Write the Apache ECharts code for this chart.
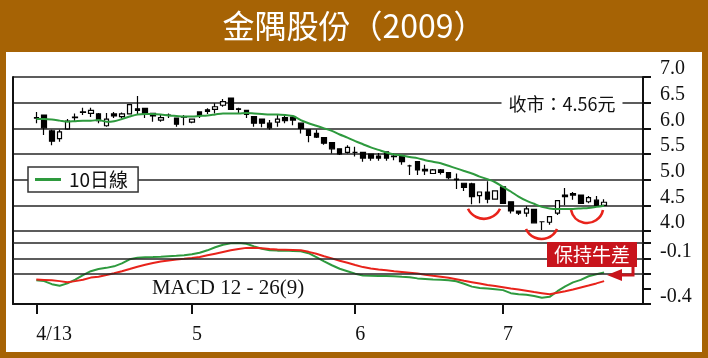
<!DOCTYPE html>
<html>
<head>
<meta charset="utf-8">
<script src="https://cdn.jsdelivr.net/npm/echarts@6/dist/echarts.min.js"></script>
<style>
html,body{margin:0;padding:0;background:#a66305;}
#chart{width:708px;height:358px;}
</style>
</head>
<body>
<div id="chart"></div>
<script>
// ---- data ----
const dayOffset = 3;          // empty slots before first candle
const totalSlots = 82;        // category slots on the time axis
const tickIdx = [3, 23, 44, 63];
const tickLabels = ['4/13', '5', '6', '7'];

const opens = [6.20,6.26,5.95,5.80,5.99,6.21,6.32,6.29,6.28,6.05,6.28,6.23,6.28,6.38,6.39,6.29,6.16,6.26,6.20,6.23,6.12,6.32,6.36,6.37,6.45,6.59,6.38,6.35,6.23,6.18,6.10,6.12,6.21,6.22,6.10,5.97,5.90,5.82,5.72,5.60,5.53,5.53,5.53,5.50,5.46,5.54,5.46,5.45,5.27,5.35,5.20,5.12,5.19,5.14,5.01,4.93,4.92,4.69,4.76,4.62,4.86,4.57,4.39,4.35,4.42,4.18,4.17,4.35,4.70,4.73,4.70,4.57,4.60,4.50];
const closes = [6.21,6.01,5.75,5.93,6.14,6.22,6.31,6.35,6.15,6.18,6.24,6.28,6.46,6.35,6.27,6.24,6.21,6.25,6.08,6.22,6.18,6.25,6.33,6.42,6.52,6.37,6.37,6.27,6.10,6.10,6.01,6.18,6.15,6.16,6.00,5.86,5.83,5.71,5.60,5.50,5.63,5.53,5.42,5.42,5.42,5.42,5.45,5.35,5.27,5.19,5.17,5.19,5.14,5.04,5.00,4.85,4.67,4.76,4.62,4.78,4.54,4.39,4.35,4.43,4.16,4.18,4.28,4.59,4.67,4.70,4.54,4.65,4.50,4.56];
const lows = [6.10,5.87,5.67,5.74,5.97,6.13,6.26,6.22,6.10,6.03,6.20,6.19,6.27,6.26,6.20,6.13,6.13,6.20,6.03,6.06,6.10,6.20,6.28,6.29,6.42,6.36,6.30,6.20,6.03,6.02,5.97,6.03,6.10,6.06,5.90,5.73,5.81,5.68,5.51,5.48,5.51,5.45,5.35,5.37,5.37,5.37,5.38,5.29,5.09,5.09,5.09,5.11,5.10,5.01,4.82,4.78,4.52,4.54,4.54,4.61,4.53,4.34,4.31,4.28,4.15,4.02,4.12,4.31,4.50,4.61,4.53,4.54,4.49,4.49];
const highs = [6.32,6.27,5.97,5.97,6.18,6.29,6.40,6.40,6.30,6.30,6.32,6.31,6.46,6.63,6.40,6.30,6.26,6.29,6.21,6.26,6.19,6.33,6.39,6.49,6.57,6.60,6.40,6.36,6.24,6.19,6.16,6.26,6.26,6.26,6.11,5.98,5.97,5.83,5.73,5.61,5.67,5.64,5.54,5.51,5.52,5.55,5.51,5.46,5.29,5.36,5.29,5.21,5.21,5.15,5.12,4.94,4.94,4.77,4.97,4.79,4.87,4.58,4.40,4.48,4.43,4.19,4.29,4.60,4.84,4.76,4.71,4.68,4.68,4.62];
const ma10 = [6.18,6.18,6.17,6.15,6.13,6.14,6.15,6.15,6.16,6.13,6.14,6.18,6.23,6.27,6.28,6.28,6.27,6.25,6.24,6.23,6.23,6.24,6.25,6.27,6.29,6.29,6.29,6.30,6.29,6.28,6.27,6.27,6.26,6.24,6.16,6.10,6.05,6.00,5.95,5.88,5.82,5.75,5.69,5.63,5.58,5.53,5.49,5.47,5.44,5.42,5.38,5.35,5.32,5.27,5.22,5.17,5.12,5.06,5.01,4.95,4.86,4.77,4.67,4.59,4.53,4.47,4.44,4.43,4.43,4.43,4.44,4.45,4.47,4.49];
const macdFast = [-0.245,-0.25,-0.27,-0.28,-0.265,-0.24,-0.21,-0.185,-0.17,-0.163,-0.153,-0.134,-0.107,-0.097,-0.093,-0.092,-0.09,-0.087,-0.084,-0.08,-0.074,-0.064,-0.048,-0.028,-0.011,-0.002,0.0,-0.005,-0.022,-0.038,-0.048,-0.05,-0.05,-0.052,-0.054,-0.067,-0.093,-0.12,-0.146,-0.169,-0.185,-0.201,-0.213,-0.214,-0.216,-0.217,-0.218,-0.222,-0.225,-0.232,-0.236,-0.24,-0.241,-0.244,-0.251,-0.267,-0.286,-0.295,-0.299,-0.304,-0.309,-0.329,-0.336,-0.339,-0.348,-0.359,-0.353,-0.316,-0.284,-0.258,-0.242,-0.218,-0.205,-0.194];
const macdSlow = [-0.24,-0.242,-0.244,-0.25,-0.257,-0.25,-0.241,-0.227,-0.221,-0.21,-0.198,-0.185,-0.171,-0.156,-0.143,-0.131,-0.121,-0.114,-0.108,-0.104,-0.099,-0.092,-0.081,-0.07,-0.059,-0.048,-0.039,-0.032,-0.031,-0.034,-0.039,-0.042,-0.044,-0.046,-0.048,-0.058,-0.071,-0.087,-0.101,-0.116,-0.129,-0.144,-0.158,-0.167,-0.173,-0.178,-0.185,-0.19,-0.195,-0.2,-0.208,-0.215,-0.221,-0.228,-0.238,-0.248,-0.257,-0.266,-0.275,-0.282,-0.29,-0.298,-0.305,-0.313,-0.322,-0.329,-0.336,-0.326,-0.316,-0.305,-0.292,-0.279,-0.265,-0.25];
const priceTicks = {min: 4.0, max: 7.0, step: 0.5};
const macdTicks = {min: -0.4, max: 0.0, step: 0.1};
const macdGridLevels = [0.0, -0.1, -0.2];
const macdShownLabels = [-0.1, -0.4];
const closeText = '收市：4.56元';
const titleText = '金隅股份（2009）';

// ---- build ----
const cats = Array.from({length: totalSlots}, (_, i) => 'd' + i);
const labelFor = {};
tickIdx.forEach((k, j) => { labelFor[k] = tickLabels[j]; });
const candleRows = opens.map((o, i) => [i + dayOffset, o, closes[i], lows[i], highs[i]]);
const maRows = ma10.map((v, i) => [i + dayOffset, v]);
const fastRows = macdFast.map((v, i) => [i + dayOffset, v]);
const slowRows = macdSlow.map((v, i) => [i + dayOffset, v]);

const SERIF = 'Liberation Serif';
const CJK = 'Noto Sans CJK TC';
const RED = '#e8231b';
const GREEN = '#2e9a3e';
const chart = echarts.init(document.getElementById('chart'), null, {renderer: 'canvas'});

const G = {left: 13, right: 65};
chart.setOption({
  animation: false,
  backgroundColor: '#a66305',
  title: {
    text: titleText, left: 'center', top: 5,
    textStyle: {color: '#fff', fontSize: 32, fontWeight: 'normal', fontFamily: CJK}
  },
  legend: {
    data: [{name: '10日線', icon: 'rect'}], left: 28, top: 167,
    padding: [3, 10, 3, 7], borderColor: '#333', borderWidth: 1.5, backgroundColor: '#fff',
    itemWidth: 26, itemHeight: 3,
    textStyle: {fontSize: 19, fontFamily: CJK, color: '#111', padding: [0, 0, 0, 3]}
  },
  grid: [
    {left: G.left, right: G.right, top: 77, height: 154},
    {left: G.left, right: G.right, top: 243, height: 61},
    {left: G.left, right: G.right, top: 77, height: 227}
  ],
  xAxis: [
    {type: 'category', gridIndex: 0, data: cats, boundaryGap: false, show: false},
    {type: 'category', gridIndex: 1, data: cats, boundaryGap: false,
      axisLine: {onZero: false, lineStyle: {color: '#111', width: 2}},
      axisTick: {interval: (i) => labelFor[i] !== undefined, length: 10, lineStyle: {color: '#111', width: 2}},
      axisLabel: {interval: (i) => labelFor[i] !== undefined, formatter: (v) => labelFor[+v.slice(1)] || '',
        align: 'left', margin: 21, fontFamily: SERIF, fontSize: 20, color: '#111'},
      splitLine: {show: false}},
    {type: 'value', gridIndex: 2, min: 0, max: 1, show: false}
  ],
  yAxis: [
    {type: 'value', gridIndex: 0, position: 'right', min: priceTicks.min, max: priceTicks.max, interval: priceTicks.step,
      axisLine: {show: false},
      axisTick: {show: true, length: 8, lineStyle: {color: '#111', width: 2}},
      axisLabel: {formatter: (v) => v.toFixed(1), margin: 17, fontFamily: SERIF, fontSize: 20, color: '#111',
        verticalAlign: 'bottom', lineHeight: 20, padding: [0, 0, -2, 0]},
      splitLine: {show: true, lineStyle: {color: '#262626', width: 1.6}}},
    {type: 'value', gridIndex: 1, position: 'right', min: macdTicks.min, max: macdTicks.max, interval: macdTicks.step,
      axisLine: {show: false},
      axisTick: {show: true, length: 8, lineStyle: {color: '#111', width: 2}},
      axisLabel: {formatter: (v) => macdShownLabels.some(s => Math.abs(s - v) < 1e-6) ? v.toFixed(1) : '',
        margin: 17, fontFamily: SERIF, fontSize: 20, color: '#111', verticalAlign: 'bottom', lineHeight: 20, padding: [0, 0, -3, 0]},
      splitLine: {show: false}},
    {type: 'value', gridIndex: 2, position: 'left', min: 0, max: 1,
      axisLine: {show: true, onZero: false, lineStyle: {color: '#111', width: 2}},
      axisTick: {show: false}, axisLabel: {show: false}, splitLine: {show: false}},
    {type: 'value', gridIndex: 2, position: 'right', min: 0, max: 1,
      axisLine: {show: true, onZero: false, lineStyle: {color: '#111', width: 2}},
      axisTick: {show: false}, axisLabel: {show: false}, splitLine: {show: false}}
  ],
  series: [
    {type: 'candlestick', name: 'K', xAxisIndex: 0, yAxisIndex: 0, data: candleRows,
      encode: {x: 0, y: [1, 2, 3, 4]}, barWidth: 5,
      itemStyle: {color: '#fff', color0: '#000', borderColor: '#000', borderColor0: '#000', borderWidth: 1.2}},
    {type: 'line', name: '10日線', xAxisIndex: 0, yAxisIndex: 0, data: maRows, smooth: 0.3,
      symbol: 'none', showSymbol: false, lineStyle: {color: GREEN, width: 2}, itemStyle: {color: GREEN}, z: 3},
    {type: 'line', name: 'DIF', xAxisIndex: 1, yAxisIndex: 1, data: fastRows,
      symbol: 'none', showSymbol: false, lineStyle: {color: GREEN, width: 2}, z: 3},
    {type: 'line', name: 'DEA', xAxisIndex: 1, yAxisIndex: 1, data: slowRows,
      symbol: 'none', showSymbol: false, lineStyle: {color: RED, width: 2}, z: 4,
      markLine: {silent: true, symbol: ['none', 'none'], label: {show: false},
        lineStyle: {color: '#262626', width: 1.6, type: 'solid'},
        data: macdGridLevels.map(v => ({yAxis: v}))}}
  ],
  graphic: [
    {type: 'rect', z: -10, silent: true, shape: {x: 6, y: 52, width: 696, height: 300}, style: {fill: '#fff'}},
    {type: 'text', z: 100, x: 562, y: 104, style: {text: closeText, font: '18px "' + CJK + '"', fill: '#111',
      align: 'center', verticalAlign: 'middle', backgroundColor: '#fff', padding: [2, 7]}},
    {type: 'text', z: 100, x: 228, y: 288, style: {text: 'MACD 12 - 26(9)', font: '21px "' + SERIF + '"', fill: '#111',
      align: 'center', verticalAlign: 'middle'}},
    {type: 'arc', z: 100, shape: {cx: 484, cy: 201, r: 17.8, startAngle: 0.45, endAngle: 2.69}, style: {stroke: RED, lineWidth: 2.6, fill: null}},
    {type: 'arc', z: 100, shape: {cx: 541.5, cy: 222, r: 17, startAngle: 0.42, endAngle: 2.72}, style: {stroke: RED, lineWidth: 2.6, fill: null}},
    {type: 'arc', z: 100, shape: {cx: 587, cy: 206.7, r: 16.3, startAngle: 0.2, endAngle: 2.94}, style: {stroke: RED, lineWidth: 2.6, fill: null}},
    {type: 'rect', z: 100, shape: {x: 547, y: 242, width: 90, height: 25}, style: {fill: '#c8141c'}},
    {type: 'text', z: 101, x: 592, y: 254.5, style: {text: '保持牛差', font: '19px "' + CJK + '"', fill: '#fff',
      align: 'center', verticalAlign: 'middle'}},
    {type: 'polyline', z: 100, shape: {points: [[633, 266], [633, 275], [619, 275]]}, style: {stroke: '#c8141c', lineWidth: 3, fill: null}},
    {type: 'polygon', z: 100, shape: {points: [[607, 275], [622, 269], [622, 281]]}, style: {fill: '#c8141c'}}
  ]
});
</script>
</body>
</html>
